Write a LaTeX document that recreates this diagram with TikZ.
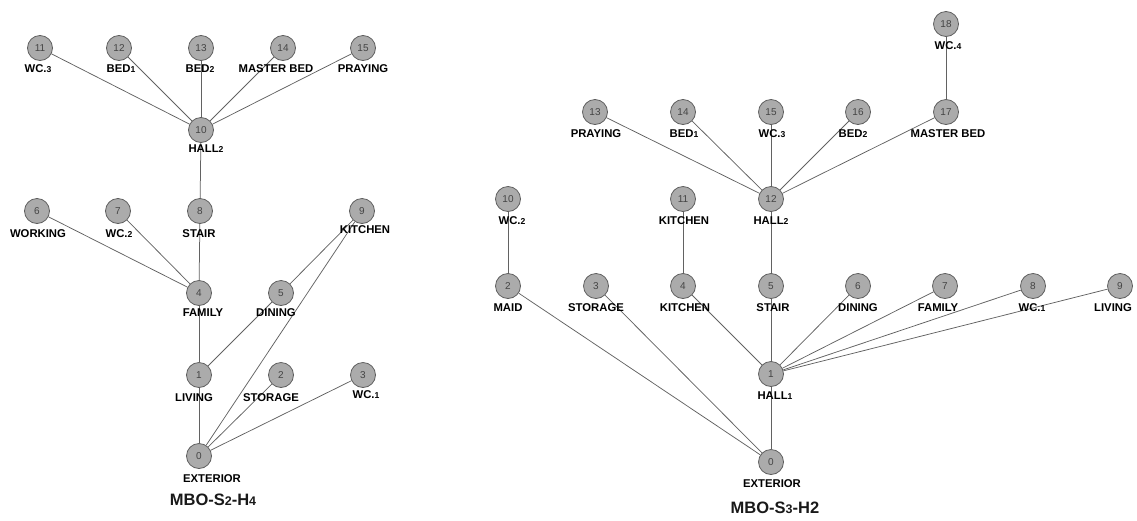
\documentclass[tikz,border=0pt]{standalone}
\usepackage{fontspec}
\setmainfont{Liberation Sans}
\definecolor{nodefill}{HTML}{ABABAB}
\definecolor{nodeedge}{HTML}{5E5E5E}
\definecolor{numcol}{HTML}{444444}
\definecolor{edgecol}{HTML}{626262}
\newcommand\sd[1]{{\fontsize{8.6}{8.6}\selectfont #1}}
\tikzset{
  rm/.style={circle, draw=nodeedge, fill=nodefill, line width=0.8pt, minimum size=25pt, inner sep=0pt, font=\fontsize{10}{10}\selectfont, text=numcol},
  lbl/.style={font=\bfseries\fontsize{11.3}{11.3}\selectfont, text=black, inner sep=0pt, anchor=center},
  ttl/.style={font=\bfseries\fontsize{16.5}{16.5}\selectfont, text=black!90, inner sep=0pt, anchor=center},
  edge/.style={draw=edgecol, line width=0.75pt}
}
\begin{document}
\begin{tikzpicture}[x=1pt,y=-1pt]
\useasboundingbox (0,0) rectangle (1137,520);
% ---------- left graph: MBO-S2-H4 ----------
\node[rm] (a0) at (199,456) {0};
\node[rm] (a1) at (199,375) {1};
\node[rm] (a2) at (281,375) {2};
\node[rm] (a3) at (363,375) {3};
\node[rm] (a4) at (199,293) {4};
\node[rm] (a5) at (281,293) {5};
\node[rm] (a6) at (37,211) {6};
\node[rm] (a7) at (118,211) {7};
\node[rm] (a8) at (200,211) {8};
\node[rm] (a9) at (362,211) {9};
\node[rm] (a10) at (201,130) {10};
\node[rm] (a11) at (40,48) {11};
\node[rm] (a12) at (119,48) {12};
\node[rm] (a13) at (201,48) {13};
\node[rm] (a14) at (283,48) {14};
\node[rm] (a15) at (363,48) {15};
\foreach \u/\v in {10/11,10/12,10/13,10/14,10/15,10/8,8/4,6/4,7/4,4/1,1/5,5/9,9/0,1/0,2/0,3/0}
  \draw[edge] (a\u) -- (a\v);
\node[lbl] (la11) at (38,69) {WC.\sd{3}};
\node[lbl] (la12) at (121,69) {BED\sd{1}};
\node[lbl] (la13) at (200,69) {BED\sd{2}};
\node[lbl] (la14) at (276,69) {MASTER BED};
\node[lbl] (la15) at (363,69) {PRAYING};
\node[lbl] (la10) at (206,149) {HALL\sd{2}};
\node[lbl] (la6) at (38,234) {WORKING};
\node[lbl] (la7) at (119,234) {WC.\sd{2}};
\node[lbl] (la8) at (199,234) {STAIR};
\node[lbl] (la9) at (365,230) {KITCHEN};
\node[lbl] (la4) at (203,313) {FAMILY};
\node[lbl] (la5) at (276,313) {DINING};
\node[lbl] (la1) at (194,398) {LIVING};
\node[lbl] (la2) at (271,398) {STORAGE};
\node[lbl] (la3) at (366,395) {WC.\sd{1}};
\node[lbl] (la0) at (212,479) {EXTERIOR};
\node[ttl] (ta) at (213,500) {MBO-S{\fontsize{12.5}{12.5}\selectfont 2}-H{\fontsize{12.5}{12.5}\selectfont 4}};
% ---------- right graph: MBO-S3-H2 ----------
\node[rm] (b0) at (771,462) {0};
\node[rm] (b1) at (771,374) {1};
\node[rm] (b2) at (508,286) {2};
\node[rm] (b3) at (596,286) {3};
\node[rm] (b4) at (683,286) {4};
\node[rm] (b5) at (771,286) {5};
\node[rm] (b6) at (858,286) {6};
\node[rm] (b7) at (945,286) {7};
\node[rm] (b8) at (1033,286) {8};
\node[rm] (b9) at (1120,286) {9};
\node[rm] (b10) at (508,199) {10};
\node[rm] (b11) at (683,199) {11};
\node[rm] (b12) at (771,199) {12};
\node[rm] (b13) at (595,112) {13};
\node[rm] (b14) at (683,112) {14};
\node[rm] (b15) at (771,112) {15};
\node[rm] (b16) at (858,112) {16};
\node[rm] (b17) at (946,112) {17};
\node[rm] (b18) at (946,24) {18};
\foreach \u/\v in {18/17,17/12,16/12,15/12,14/12,13/12,12/5,11/4,10/2,5/1,4/1,6/1,7/1,8/1,9/1,1/0,2/0,3/0}
  \draw[edge] (b\u) -- (b\v);
\node[lbl] (lb18) at (948,46) {WC.\sd{4}};
\node[lbl] (lb17) at (948,134) {MASTER BED};
\node[lbl] (lb13) at (596,134) {PRAYING};
\node[lbl] (lb14) at (684,134) {BED\sd{1}};
\node[lbl] (lb15) at (772,134) {WC.\sd{3}};
\node[lbl] (lb16) at (853,134) {BED\sd{2}};
\node[lbl] (lb10) at (512,221) {WC.\sd{2}};
\node[lbl] (lb11) at (684,221) {KITCHEN};
\node[lbl] (lb12) at (771,221) {HALL\sd{2}};
\node[lbl] (lb2) at (508,308) {MAID};
\node[lbl] (lb3) at (596,308) {STORAGE};
\node[lbl] (lb4) at (685,308) {KITCHEN};
\node[lbl] (lb5) at (773,308) {STAIR};
\node[lbl] (lb6) at (858,308) {DINING};
\node[lbl] (lb7) at (938,308) {FAMILY};
\node[lbl] (lb8) at (1032,308) {WC.\sd{1}};
\node[lbl] (lb9) at (1113,308) {LIVING};
\node[lbl] (lb1) at (775,396) {HALL\sd{1}};
\node[lbl] (lb0) at (772,484) {EXTERIOR};
\node[ttl] (tb) at (775,508) {MBO-S{\fontsize{12.5}{12.5}\selectfont 3}-H2};
\end{tikzpicture}
\end{document}
